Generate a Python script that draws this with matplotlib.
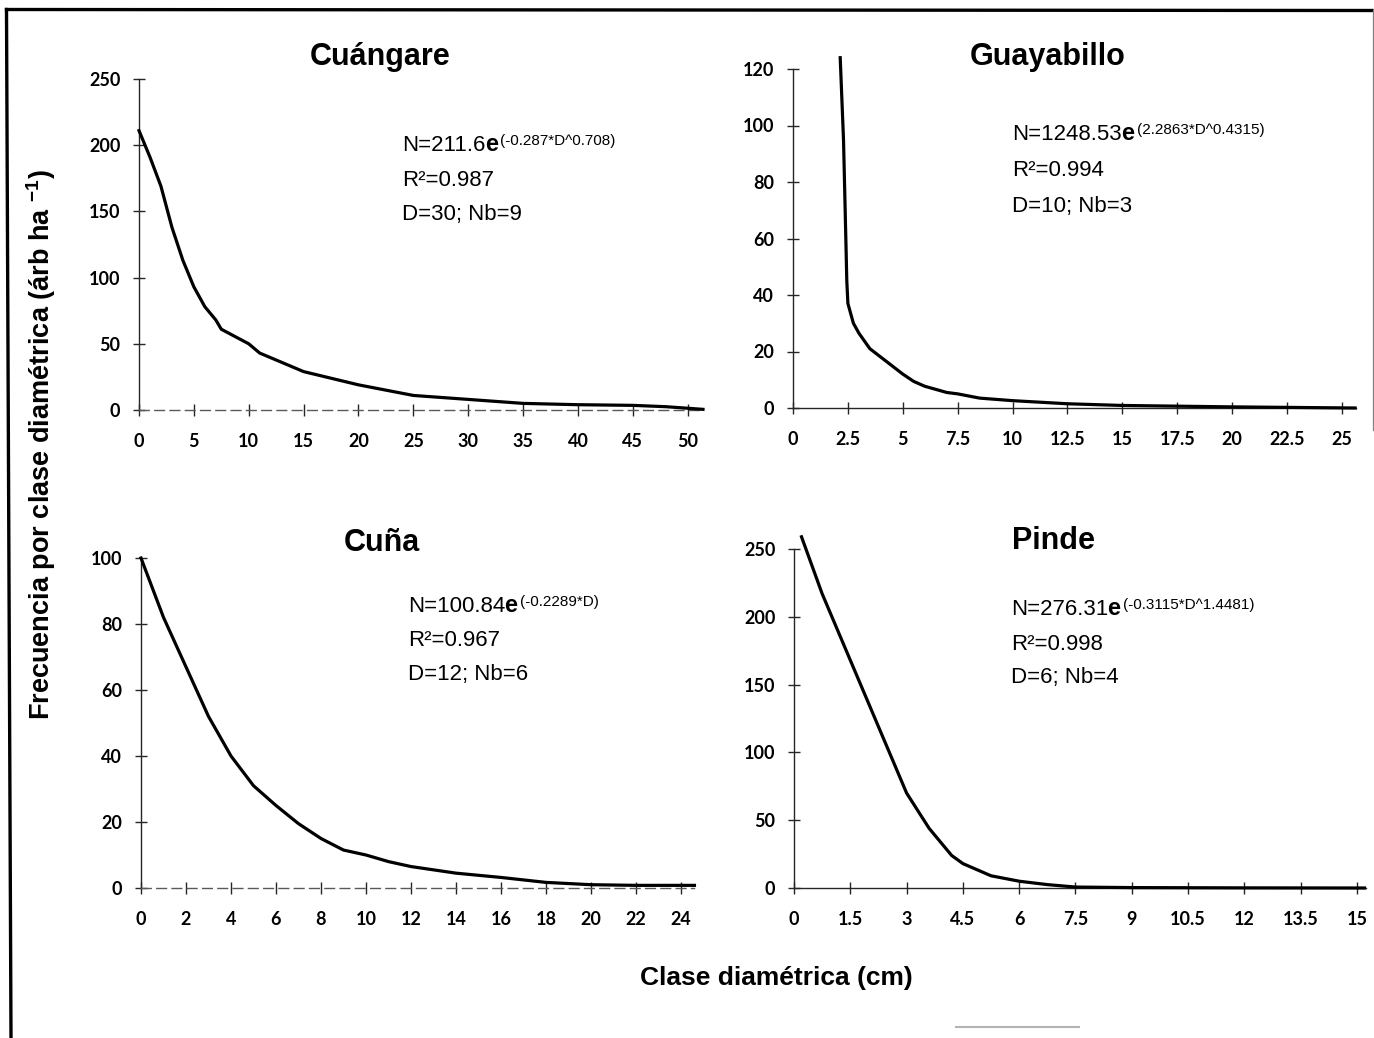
import numpy as np
import matplotlib
matplotlib.use("Agg")
import matplotlib.pyplot as plt
from matplotlib.lines import Line2D

plt.rcParams['font.family'] = ['Liberation Sans', 'DejaVu Sans']
plt.rcParams['mathtext.fontset'] = 'custom'
plt.rcParams['mathtext.rm'] = 'Liberation Sans:bold'
plt.rcParams['mathtext.default'] = 'rm'

W, H = 1374, 1038

# Cuángare
cuangare_d = [0, 1, 2, 3, 4, 5, 6, 7, 7.5, 10, 11, 15, 20, 25, 30, 35, 40, 45, 48, 51.4]
cuangare_n = [211, 191, 169, 138, 113, 93, 78, 68, 61, 50, 43, 29, 19, 11, 8, 5, 4, 3.5, 2.5, 0.5]

# Guayabillo
guayabillo_d = [2.15, 2.3, 2.4, 2.45, 2.5, 2.75, 3, 3.5, 4, 4.5, 5, 5.5, 6, 7, 7.5, 8.5, 10, 12.5, 15, 20, 25.6]
guayabillo_n = [124, 95, 62, 45, 37, 30, 26.5, 21, 18, 15, 12, 9.4, 7.7, 5.5, 5, 3.5, 2.6, 1.5, 0.9, 0.4, 0]

# Cuña
cuna_d = [0, 1, 2, 3, 4, 5, 6, 7, 8, 9, 10, 11, 12, 14, 16, 18, 20, 22, 24, 24.6]
cuna_n = [100, 82, 67, 52, 40, 31, 25, 19.5, 15, 11.5, 10, 8, 6.5, 4.5, 3.2, 1.7, 1, 0.8, 0.8, 0.8]

# Pinde
pinde_d = [0.2, 0.75, 1.5, 2.25, 3, 3.6, 4.2, 4.5, 5.25, 6, 6.75, 7.5, 9, 12, 15.2]
pinde_n = [259, 217, 168, 119, 70, 44, 24, 18, 9, 5, 2.5, 0.7, 0.3, 0.1, 0]

titles = ['Cuángare', 'Guayabillo', 'Cuña', 'Pinde']
coefs = ['N=211.6', 'N=1248.53', 'N=100.84', 'N=276.31']
expos = ['(-0.287*D^0.708)', '(2.2863*D^0.4315)', '(-0.2289*D)', '(-0.3115*D^1.4481)']
r2s = ['R²=0.987', 'R²=0.994', 'R²=0.967', 'R²=0.998']
dnbs = ['D=30; Nb=9', 'D=10; Nb=3', 'D=12; Nb=6', 'D=6; Nb=4']

x_ticks = [np.arange(0, 51, 5), np.arange(0, 25.1, 2.5), np.arange(0, 25, 2), np.arange(0, 15.1, 1.5)]
x_labels = [[str(v) for v in range(0, 51, 5)],
            ['0', '2.5', '5', '7.5', '10', '12.5', '15', '17.5', '20', '22.5', '25'],
            [str(v) for v in range(0, 25, 2)],
            ['0', '1.5', '3', '4.5', '6', '7.5', '9', '10.5', '12', '13.5', '15']]
y_ticks = [np.arange(0, 251, 50), np.arange(0, 121, 20), np.arange(0, 101, 20), np.arange(0, 251, 50)]

# axes boxes in pixels: left, top, right, bottom
boxes = [(139, 79, 703, 410), (793, 69, 1356, 408), (141, 558, 694, 888), (794, 549, 1366, 888)]
xmax = [51.4, 25.64, 24.58, 15.24]
ymax = [250, 120, 100, 250]
# title centre/baseline, formula left/baselines
title_pos = [(380, 65), (1048, 65), (382, 551), (1054, 549)]
form_pos = [(402, 151, 186, 220), (1012, 140, 176, 212), (408, 612, 646, 680), (1011, 615, 650, 683)]

series = [(cuangare_d, cuangare_n), (guayabillo_d, guayabillo_n), (cuna_d, cuna_n), (pinde_d, pinde_n)]

fig = plt.figure(figsize=(W / 100, H / 100), dpi=100)
fig.patch.set_facecolor('white')

for i in range(4):
    l, t, r, b = boxes[i]
    ax = fig.add_axes([l / W, 1 - b / H, (r - l) / W, (b - t) / H])
    ax.set_facecolor('none')
    d, n = series[i]
    ax.plot(d, n, color='black', lw=2.3, solid_joinstyle='round', clip_on=False, zorder=3)
    ax.set_xlim(0, xmax[i])
    ax.set_ylim(0, ymax[i])

    for s in ['top', 'right']:
        ax.spines[s].set_visible(False)
    ax.spines['left'].set_linewidth(1.0)
    ax.spines['left'].set_color('0.15')
    ax.spines['bottom'].set_linewidth(1.0)
    ax.spines['bottom'].set_color('0.15')
    if i in (0, 2):
        ax.spines['bottom'].set_linestyle((0, (7, 4)))
        ax.spines['bottom'].set_color('0.35')

    ax.set_xticks(x_ticks[i])
    ax.set_xticklabels(x_labels[i], fontfamily='Lato', fontweight='bold', fontsize=13)
    ax.set_yticks(y_ticks[i])
    ax.set_yticklabels([str(int(v)) for v in y_ticks[i]], fontfamily='Lato', fontweight='bold', fontsize=13)
    ax.tick_params(axis='both', direction='inout', length=9, width=1, color='0.15')
    ax.tick_params(axis='x', pad=12)
    ax.tick_params(axis='y', pad=9)

    tx, tb = title_pos[i]
    fig.text(tx / W, 1 - tb / H, titles[i], ha='center', va='baseline',
             fontsize=22, fontweight='bold')

    fx, b1, b2, b3 = form_pos[i]
    t1 = ax.annotate(coefs[i], xy=(fx, H - b1), xycoords='figure pixels',
                     ha='left', va='baseline', fontsize=16)
    t2 = ax.annotate('e', xy=(1, 0), xycoords=t1, xytext=(-0.5, 0), textcoords='offset points',
                     ha='left', va='bottom', fontsize=17, fontweight='bold')
    ax.annotate(expos[i], xy=(1, 1), xycoords=t2, xytext=(2, -1), textcoords='offset points',
                ha='left', va='top', fontsize=11)
    ax.annotate(r2s[i], xy=(fx, H - b2), xycoords='figure pixels',
                ha='left', va='baseline', fontsize=16)
    ax.annotate(dnbs[i], xy=(fx, H - b3), xycoords='figure pixels',
                ha='left', va='baseline', fontsize=16)

fig.text(41 / W, 1 - 445 / H, r'Frecuencia por clase diamétrica (árb ha $^{-1}$)',
         rotation=90, ha='center', va='center', fontsize=19.5, fontweight='bold')
fig.text(776 / W, 1 - 978 / H, 'Clase diamétrica (cm)', ha='center', va='center',
         fontsize=19, fontweight='bold')

# page frame
fig.add_artist(Line2D([6.5 / W, 11 / W], [1 - 9.5 / H, 0], transform=fig.transFigure,
                      color='black', lw=2.4))
fig.add_artist(Line2D([6.5 / W, 1372 / W], [1 - 9.5 / H, 1 - 10.5 / H], transform=fig.transFigure,
                      color='black', lw=2.4))
fig.add_artist(Line2D([1373 / W, 1373 / W], [1 - 10 / H, 1 - 430 / H], transform=fig.transFigure,
                      color='0.5', lw=0.9))
fig.add_artist(Line2D([956 / W, 1079 / W], [1 - 1027 / H, 1 - 1027 / H], transform=fig.transFigure,
                      color='0.7', lw=1.5))

fig.savefig('out.png', dpi=100)
